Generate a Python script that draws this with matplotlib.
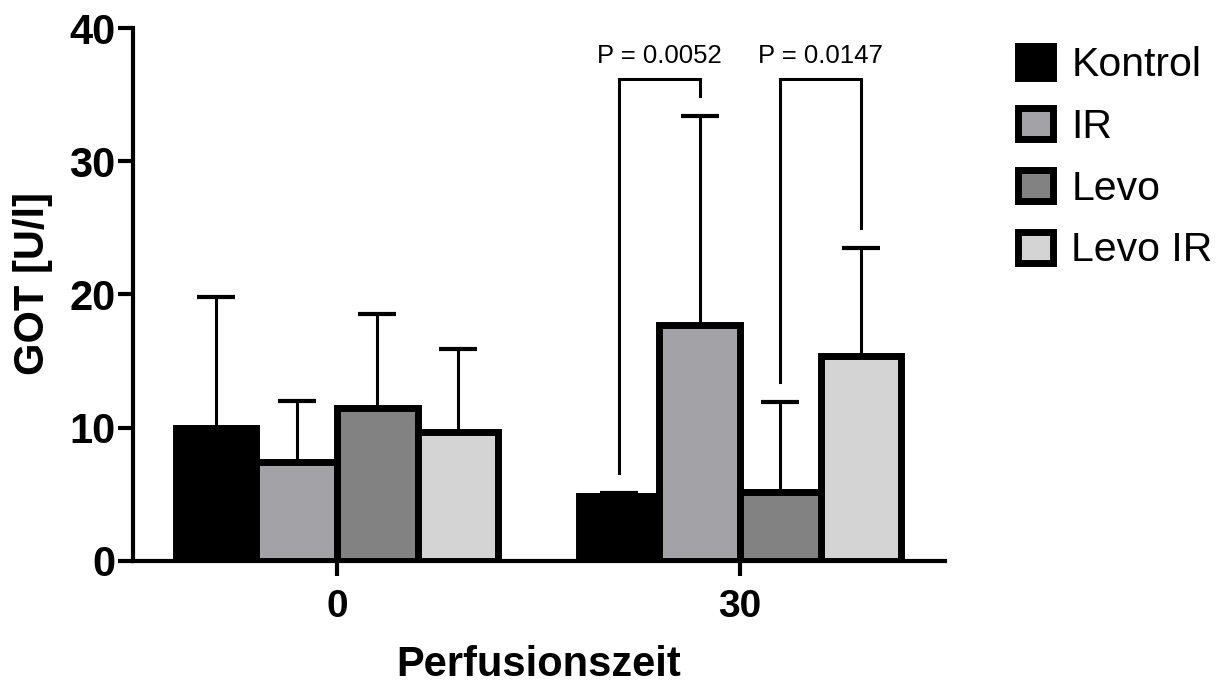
import numpy as np
import matplotlib
matplotlib.use("Agg")
import matplotlib.pyplot as plt
from matplotlib.patches import Patch

plt.rcParams['font.family'] = ['Liberation Sans', 'DejaVu Sans']

# data
times = ["0", "30"]
groups = ["Kontrol", "IR", "Levo", "Levo IR"]
colors = ["#000000", "#a3a2a7", "#828282", "#d4d4d4"]
means_0 = [10.0, 7.4, 11.5, 9.7]
means_30 = [4.9, 17.7, 5.2, 15.4]
sd_0 = [9.8, 4.6, 7.0, 6.2]
sd_30 = [0.2, 15.7, 6.7, 8.1]

# significance brackets at 30 min: (group a, group b, top, leg a end, leg b end, label)
brackets = [
    (0, 1, 36.2, 6.6, 34.9, "P = 0.0052"),
    (2, 3, 36.2, 13.4, 25.0, "P = 0.0147"),
]

fig = plt.figure(figsize=(12.29, 6.88), dpi=100)
ax = fig.add_axes([0.1082, 0.1846, 0.769 - 0.1082, 0.9593 - 0.1846])

x = np.arange(len(times))
width = 0.2
offsets = [-0.3, -0.1, 0.1, 0.3]
means = np.array([means_0, means_30])
sds = np.array([sd_0, sd_30])

for i, g in enumerate(groups):
    xs = x + offsets[i]
    ax.bar(xs, means[:, i], width=width, color=colors[i], edgecolor="black",
           linewidth=5, zorder=3)
    ax.errorbar(xs, means[:, i], yerr=[np.zeros(len(times)), sds[:, i]], fmt="none",
                ecolor="black", elinewidth=2.2, capsize=14, capthick=3, zorder=2)

for a, b, top, ya, yb, label in brackets:
    xa = x[1] + offsets[a]
    xb = x[1] + offsets[b]
    ax.plot([xa, xa, xb, xb], [ya, top, top, yb], color="black", lw=2.2,
            solid_joinstyle="miter", zorder=4)
    ax.text((xa + xb) / 2, top + 1.15, label, ha="center", va="baseline", fontsize=18.5)

ax.set_xlim(-0.506, 1.509)
ax.set_ylim(0, 40)
ax.set_xticks(x)
ax.set_xticklabels(times, fontsize=28, fontweight="bold")
ax.set_yticks([0, 10, 20, 30, 40])
ax.set_yticklabels(["0", "10", "20", "30", "40"], fontsize=30, fontweight="bold")
ax.tick_params(axis="both", width=3, length=10.5)
ax.tick_params(axis="x", pad=10)
ax.tick_params(axis="y", pad=2)
for s in ["top", "right"]:
    ax.spines[s].set_visible(False)
for s in ["left", "bottom"]:
    ax.spines[s].set_linewidth(3)

ax.set_xlabel("Perfusionszeit", fontsize=30, fontweight="bold", labelpad=14)
ax.set_ylabel("GOT [U/l]", fontsize=30, fontweight="bold")
ax.yaxis.set_label_coords(-0.098, 0.52)

handles = [Patch(facecolor=c, edgecolor="black", linewidth=5) for c in colors]
ax.legend(handles, groups, loc="upper left", bbox_to_anchor=(1.09, 0.966),
          frameon=False, fontsize=29.5, handlelength=0.85, handleheight=0.8,
          handletextpad=0.45, labelspacing=0.58, borderpad=0, borderaxespad=0)

fig.savefig("out.png", dpi=100)
